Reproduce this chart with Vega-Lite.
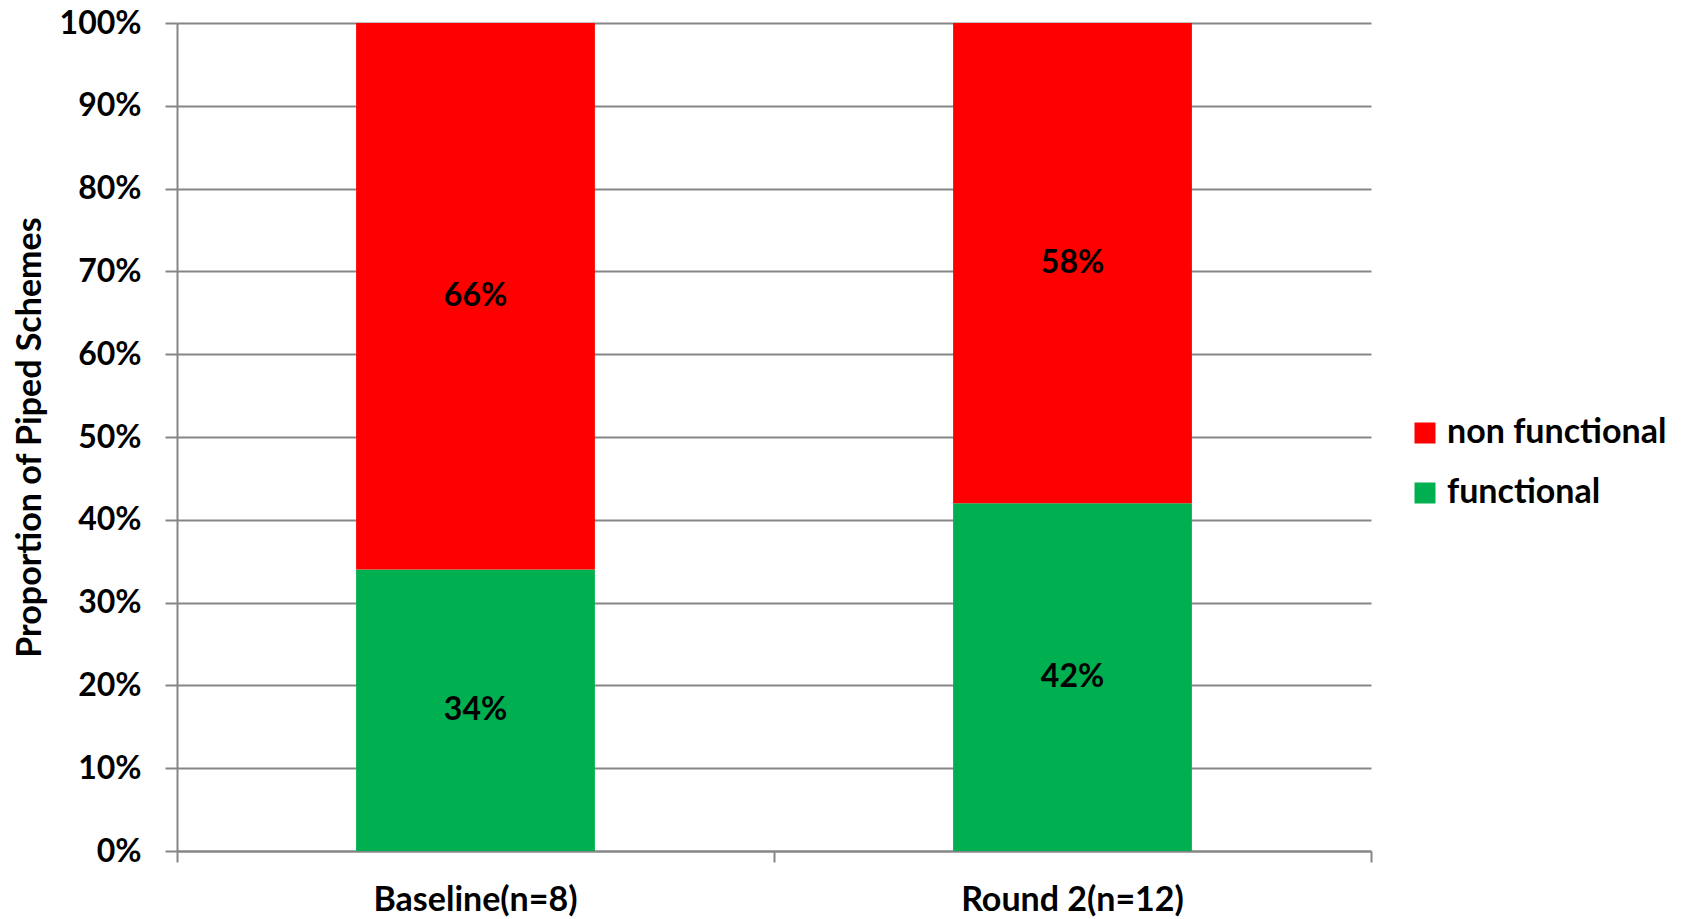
{
  "$schema": "https://vega.github.io/schema/vega-lite/v6.json",
  "width": 1194,
  "height": 828,
  "autosize": "none",
  "padding": {"left": 177, "top": 23, "right": 311, "bottom": 68},
  "background": "white",
  "config": {"view": {"stroke": null}, "font": "Lato"},
  "data": {
    "values": [
      {"round": "Baseline(n=8)", "status": "functional", "share": 0.34},
      {"round": "Baseline(n=8)", "status": "non functional", "share": 0.66},
      {"round": "Round 2(n=12)", "status": "functional", "share": 0.42},
      {"round": "Round 2(n=12)", "status": "non functional", "share": 0.58}
    ]
  },
  "encoding": {
    "x": {
      "field": "round",
      "type": "nominal",
      "sort": null,
      "scale": {"paddingInner": 0, "paddingOuter": 0},
      "axis": {
        "title": null,
        "labelAngle": 0,
        "labelLimit": 0,
        "bandPosition": 1,
        "tickExtra": true,
        "tickSize": 11,
        "tickWidth": 2,
        "tickColor": "#868686",
        "domainColor": "#868686",
        "domainWidth": 2,
        "grid": false,
        "labelFont": "Lato",
        "labelFontSize": 34,
        "labelFontWeight": "bold",
        "labelColor": "#000000",
        "labelPadding": 21
      }
    },
    "order": {"field": "status", "sort": "ascending"}
  },
  "layer": [
    {
      "mark": {"type": "bar", "width": {"band": 0.4}},
      "encoding": {
        "y": {
          "field": "share",
          "type": "quantitative",
          "stack": "zero",
          "scale": {"domain": [0, 1]},
          "axis": {
            "values": [0, 0.1, 0.2, 0.3, 0.4, 0.5, 0.6, 0.7, 0.8, 0.9, 1],
            "format": ".0%",
            "grid": true,
            "gridColor": "#868686",
            "gridWidth": 2,
            "domainColor": "#868686",
            "domainWidth": 2,
            "tickColor": "#868686",
            "tickWidth": 2,
            "tickSize": 12,
            "labelFont": "Lato",
            "labelFontSize": 32,
            "labelFontWeight": "bold",
            "labelColor": "#000000",
            "labelPadding": 24,
            "title": "Proportion of Piped Schemes",
            "titleFont": "Lato",
            "titleFontSize": 34,
            "titleFontWeight": "bold",
            "titleColor": "#000000",
            "titleAngle": -90,
            "titleX": -147,
            "titleY": 414,
            "titleAlign": "center",
            "titleBaseline": "middle"
          }
        },
        "color": {
          "field": "status",
          "type": "nominal",
          "scale": {"domain": ["non functional", "functional"], "range": ["#FF0000", "#00B050"]},
          "legend": {
            "title": null,
            "orient": "none",
            "legendX": 1231,
            "legendY": 393,
            "symbolType": "square",
            "symbolSize": 441,
            "symbolStrokeWidth": 0,
            "labelFont": "Lato",
            "labelFontSize": 34,
            "labelFontWeight": "bold",
            "labelColor": "#000000",
            "labelLimit": 0,
            "labelOffset": 5,
            "rowPadding": 26
          }
        }
      }
    },
    {
      "mark": {"type": "text", "font": "Lato", "fontWeight": "bold", "fontSize": 32, "color": "#000000", "baseline": "middle"},
      "encoding": {
        "y": {"field": "share", "type": "quantitative", "stack": "zero", "bandPosition": 0.5},
        "detail": {"field": "status", "type": "nominal"},
        "text": {"field": "share", "format": ".0%"}
      }
    }
  ]
}
